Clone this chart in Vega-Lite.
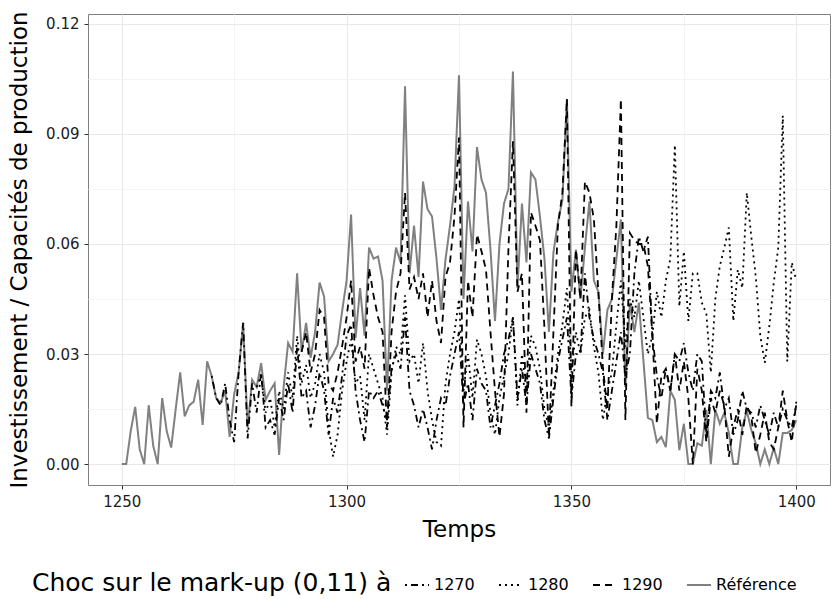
{
"$schema":"https://vega.github.io/schema/vega-lite/v6.json",
"width":742,"height":471,
"autosize":{"type":"none"},
"padding":{"left":88,"top":14,"right":1,"bottom":114},
"config":{"font":"DejaVu Sans","view":{"stroke":"#7f7f7f","strokeWidth":1},
"axis":{"domain":false,"tickColor":"#333333","tickSize":4,"labelFontSize":15,"labelColor":"#1a1a1a","titleFontSize":23,"titleFontWeight":"normal","titleColor":"#000000","labelPadding":5}},
"data":{"values":[
{"t":1250,"s":"Référence","v":0},{"t":1251,"s":"Référence","v":0},{"t":1252,"s":"Référence","v":0.009},{"t":1253,"s":"Référence","v":0.0156},{"t":1254,"s":"Référence","v":0.004},{"t":1255,"s":"Référence","v":0},{"t":1256,"s":"Référence","v":0.016},{"t":1257,"s":"Référence","v":0.005},{"t":1258,"s":"Référence","v":0},{"t":1259,"s":"Référence","v":0.018},
{"t":1260,"s":"Référence","v":0.009},{"t":1261,"s":"Référence","v":0.0045},{"t":1262,"s":"Référence","v":0.015},{"t":1263,"s":"Référence","v":0.025},{"t":1264,"s":"Référence","v":0.013},{"t":1265,"s":"Référence","v":0.016},{"t":1266,"s":"Référence","v":0.017},{"t":1267,"s":"Référence","v":0.023},{"t":1268,"s":"Référence","v":0.0107},{"t":1269,"s":"Référence","v":0.028},
{"t":1270,"s":"Référence","v":0.024},{"t":1271,"s":"Référence","v":0.018},{"t":1272,"s":"Référence","v":0.0167},{"t":1273,"s":"Référence","v":0.02},{"t":1274,"s":"Référence","v":0.0074},{"t":1275,"s":"Référence","v":0.019},{"t":1276,"s":"Référence","v":0.025},{"t":1277,"s":"Référence","v":0.0385},{"t":1278,"s":"Référence","v":0.01},{"t":1279,"s":"Référence","v":0.023},
{"t":1280,"s":"Référence","v":0.021},{"t":1281,"s":"Référence","v":0.0275},{"t":1282,"s":"Référence","v":0.0175},{"t":1283,"s":"Référence","v":0.02},{"t":1284,"s":"Référence","v":0.022},{"t":1285,"s":"Référence","v":0.0025},{"t":1286,"s":"Référence","v":0.021},{"t":1287,"s":"Référence","v":0.033},{"t":1288,"s":"Référence","v":0.0306},{"t":1289,"s":"Référence","v":0.052},
{"t":1290,"s":"Référence","v":0.0306},{"t":1291,"s":"Référence","v":0.0385},{"t":1292,"s":"Référence","v":0.029},{"t":1293,"s":"Référence","v":0.036},{"t":1294,"s":"Référence","v":0.0495},{"t":1295,"s":"Référence","v":0.0457},{"t":1296,"s":"Référence","v":0.028},{"t":1297,"s":"Référence","v":0.03},{"t":1298,"s":"Référence","v":0.0325},{"t":1299,"s":"Référence","v":0.0416},
{"t":1300,"s":"Référence","v":0.05},{"t":1301,"s":"Référence","v":0.068},{"t":1302,"s":"Référence","v":0.0344},{"t":1303,"s":"Référence","v":0.048},{"t":1304,"s":"Référence","v":0.035},{"t":1305,"s":"Référence","v":0.059},{"t":1306,"s":"Référence","v":0.056},{"t":1307,"s":"Référence","v":0.0566},{"t":1308,"s":"Référence","v":0.05},{"t":1309,"s":"Référence","v":0.02},
{"t":1310,"s":"Référence","v":0.05},{"t":1311,"s":"Référence","v":0.059},{"t":1312,"s":"Référence","v":0.055},{"t":1313,"s":"Référence","v":0.103},{"t":1314,"s":"Référence","v":0.052},{"t":1315,"s":"Référence","v":0.065},{"t":1316,"s":"Référence","v":0.051},{"t":1317,"s":"Référence","v":0.077},{"t":1318,"s":"Référence","v":0.0695},{"t":1319,"s":"Référence","v":0.0675},
{"t":1320,"s":"Référence","v":0.056},{"t":1321,"s":"Référence","v":0.042},{"t":1322,"s":"Référence","v":0.0558},{"t":1323,"s":"Référence","v":0.065},{"t":1324,"s":"Référence","v":0.0757},{"t":1325,"s":"Référence","v":0.106},{"t":1326,"s":"Référence","v":0.045},{"t":1327,"s":"Référence","v":0.0716},{"t":1328,"s":"Référence","v":0.058},{"t":1329,"s":"Référence","v":0.0864},
{"t":1330,"s":"Référence","v":0.0776},{"t":1331,"s":"Référence","v":0.074},{"t":1332,"s":"Référence","v":0.0585},{"t":1333,"s":"Référence","v":0.039},{"t":1334,"s":"Référence","v":0.06},{"t":1335,"s":"Référence","v":0.071},{"t":1336,"s":"Référence","v":0.075},{"t":1337,"s":"Référence","v":0.107},{"t":1338,"s":"Référence","v":0.048},{"t":1339,"s":"Référence","v":0.071},
{"t":1340,"s":"Référence","v":0.055},{"t":1341,"s":"Référence","v":0.0795},{"t":1342,"s":"Référence","v":0.0776},{"t":1343,"s":"Référence","v":0.0675},{"t":1344,"s":"Référence","v":0.056},{"t":1345,"s":"Référence","v":0.036},{"t":1346,"s":"Référence","v":0.0577},{"t":1347,"s":"Référence","v":0.066},{"t":1348,"s":"Référence","v":0.072},{"t":1349,"s":"Référence","v":0.0995},
{"t":1350,"s":"Référence","v":0.047},{"t":1351,"s":"Référence","v":0.0585},{"t":1352,"s":"Référence","v":0.045},{"t":1353,"s":"Référence","v":0.059},{"t":1354,"s":"Référence","v":0.0716},{"t":1355,"s":"Référence","v":0.05},{"t":1356,"s":"Référence","v":0.047},{"t":1357,"s":"Référence","v":0.03},{"t":1358,"s":"Référence","v":0.042},{"t":1359,"s":"Référence","v":0.045},
{"t":1360,"s":"Référence","v":0.056},{"t":1361,"s":"Référence","v":0.0667},{"t":1362,"s":"Référence","v":0.021},{"t":1363,"s":"Référence","v":0.044},{"t":1364,"s":"Référence","v":0.036},{"t":1365,"s":"Référence","v":0.044},{"t":1366,"s":"Référence","v":0.0284},{"t":1367,"s":"Référence","v":0.0126},{"t":1368,"s":"Référence","v":0.012},{"t":1369,"s":"Référence","v":0.006},
{"t":1370,"s":"Référence","v":0.0074},{"t":1371,"s":"Référence","v":0.0046},{"t":1372,"s":"Référence","v":0.02},{"t":1373,"s":"Référence","v":0.0175},{"t":1374,"s":"Référence","v":0.0038},{"t":1375,"s":"Référence","v":0.011},{"t":1376,"s":"Référence","v":0},{"t":1377,"s":"Référence","v":0},{"t":1378,"s":"Référence","v":0.0057},{"t":1379,"s":"Référence","v":0.005},
{"t":1380,"s":"Référence","v":0.0148},{"t":1381,"s":"Référence","v":0},{"t":1382,"s":"Référence","v":0.0148},{"t":1383,"s":"Référence","v":0.011},{"t":1384,"s":"Référence","v":0.014},{"t":1385,"s":"Référence","v":0.0085},{"t":1386,"s":"Référence","v":0},{"t":1387,"s":"Référence","v":0},{"t":1388,"s":"Référence","v":0.01},{"t":1389,"s":"Référence","v":0.0145},
{"t":1390,"s":"Référence","v":0.0093},{"t":1391,"s":"Référence","v":0.0057},{"t":1392,"s":"Référence","v":0},{"t":1393,"s":"Référence","v":0.004},{"t":1394,"s":"Référence","v":0},{"t":1395,"s":"Référence","v":0.0044},{"t":1396,"s":"Référence","v":0},{"t":1397,"s":"Référence","v":0.0085},{"t":1398,"s":"Référence","v":0.0085},{"t":1399,"s":"Référence","v":0.0093},{"t":1400,"s":"Référence","v":0.012},

{"t":1270,"s":"1270","v":0.024},{"t":1271,"s":"1270","v":0.018},{"t":1272,"s":"1270","v":0.016},{"t":1273,"s":"1270","v":0.022},{"t":1274,"s":"1270","v":0.012},{"t":1275,"s":"1270","v":0.006},{"t":1276,"s":"1270","v":0.025},{"t":1277,"s":"1270","v":0.0385},{"t":1278,"s":"1270","v":0.007},{"t":1279,"s":"1270","v":0.022},
{"t":1280,"s":"1270","v":0.014},{"t":1281,"s":"1270","v":0.025},{"t":1282,"s":"1270","v":0.01},{"t":1283,"s":"1270","v":0.012},{"t":1284,"s":"1270","v":0.008},{"t":1285,"s":"1270","v":0.018},{"t":1286,"s":"1270","v":0.012},{"t":1287,"s":"1270","v":0.022},{"t":1288,"s":"1270","v":0.014},{"t":1289,"s":"1270","v":0.032},
{"t":1290,"s":"1270","v":0.018},{"t":1291,"s":"1270","v":0.02},{"t":1292,"s":"1270","v":0.01},{"t":1293,"s":"1270","v":0.016},{"t":1294,"s":"1270","v":0.025},{"t":1295,"s":"1270","v":0.02},{"t":1296,"s":"1270","v":0.008},{"t":1297,"s":"1270","v":0.018},{"t":1298,"s":"1270","v":0.014},{"t":1299,"s":"1270","v":0.024},
{"t":1300,"s":"1270","v":0.035},{"t":1301,"s":"1270","v":0.038},{"t":1302,"s":"1270","v":0.02},{"t":1303,"s":"1270","v":0.012},{"t":1304,"s":"1270","v":0.006},{"t":1305,"s":"1270","v":0.02},{"t":1306,"s":"1270","v":0.018},{"t":1307,"s":"1270","v":0.02},{"t":1308,"s":"1270","v":0.016},{"t":1309,"s":"1270","v":0.012},
{"t":1310,"s":"1270","v":0.026},{"t":1311,"s":"1270","v":0.03},{"t":1312,"s":"1270","v":0.026},{"t":1313,"s":"1270","v":0.04},{"t":1314,"s":"1270","v":0.02},{"t":1315,"s":"1270","v":0.016},{"t":1316,"s":"1270","v":0.01},{"t":1317,"s":"1270","v":0.015},{"t":1318,"s":"1270","v":0.01},{"t":1319,"s":"1270","v":0.004},
{"t":1320,"s":"1270","v":0.012},{"t":1321,"s":"1270","v":0.018},{"t":1322,"s":"1270","v":0.016},{"t":1323,"s":"1270","v":0.024},{"t":1324,"s":"1270","v":0.03},{"t":1325,"s":"1270","v":0.036},{"t":1326,"s":"1270","v":0.016},{"t":1327,"s":"1270","v":0.022},{"t":1328,"s":"1270","v":0.012},{"t":1329,"s":"1270","v":0.026},
{"t":1330,"s":"1270","v":0.022},{"t":1331,"s":"1270","v":0.02},{"t":1332,"s":"1270","v":0.01},{"t":1333,"s":"1270","v":0.016},{"t":1334,"s":"1270","v":0.022},{"t":1335,"s":"1270","v":0.03},{"t":1336,"s":"1270","v":0.034},{"t":1337,"s":"1270","v":0.04},{"t":1338,"s":"1270","v":0.018},{"t":1339,"s":"1270","v":0.026},
{"t":1340,"s":"1270","v":0.016},{"t":1341,"s":"1270","v":0.03},{"t":1342,"s":"1270","v":0.026},{"t":1343,"s":"1270","v":0.022},{"t":1344,"s":"1270","v":0.012},{"t":1345,"s":"1270","v":0.007},{"t":1346,"s":"1270","v":0.018},{"t":1347,"s":"1270","v":0.028},{"t":1348,"s":"1270","v":0.034},{"t":1349,"s":"1270","v":0.04},
{"t":1350,"s":"1270","v":0.018},{"t":1351,"s":"1270","v":0.03},{"t":1352,"s":"1270","v":0.03},{"t":1353,"s":"1270","v":0.052},{"t":1354,"s":"1270","v":0.04},{"t":1355,"s":"1270","v":0.034},{"t":1356,"s":"1270","v":0.03},{"t":1357,"s":"1270","v":0.025},{"t":1358,"s":"1270","v":0.012},{"t":1359,"s":"1270","v":0.02},
{"t":1360,"s":"1270","v":0.028},{"t":1361,"s":"1270","v":0.036},{"t":1362,"s":"1270","v":0.024},{"t":1363,"s":"1270","v":0.03},{"t":1364,"s":"1270","v":0.052},{"t":1365,"s":"1270","v":0.062},{"t":1366,"s":"1270","v":0.058},{"t":1367,"s":"1270","v":0.062},{"t":1368,"s":"1270","v":0.035},{"t":1369,"s":"1270","v":0.024},
{"t":1370,"s":"1270","v":0.018},{"t":1371,"s":"1270","v":0.026},{"t":1372,"s":"1270","v":0.02},{"t":1373,"s":"1270","v":0.03},{"t":1374,"s":"1270","v":0.028},{"t":1375,"s":"1270","v":0.033},{"t":1376,"s":"1270","v":0.025},{"t":1377,"s":"1270","v":0.02},{"t":1378,"s":"1270","v":0.03},{"t":1379,"s":"1270","v":0.028},
{"t":1380,"s":"1270","v":0.008},{"t":1381,"s":"1270","v":0.02},{"t":1382,"s":"1270","v":0.018},{"t":1383,"s":"1270","v":0.025},{"t":1384,"s":"1270","v":0.015},{"t":1385,"s":"1270","v":0.018},{"t":1386,"s":"1270","v":0.008},{"t":1387,"s":"1270","v":0.012},{"t":1388,"s":"1270","v":0.02},{"t":1389,"s":"1270","v":0.015},
{"t":1390,"s":"1270","v":0.014},{"t":1391,"s":"1270","v":0.01},{"t":1392,"s":"1270","v":0.016},{"t":1393,"s":"1270","v":0.012},{"t":1394,"s":"1270","v":0.008},{"t":1395,"s":"1270","v":0.014},{"t":1396,"s":"1270","v":0.01},{"t":1397,"s":"1270","v":0.015},{"t":1398,"s":"1270","v":0.012},{"t":1399,"s":"1270","v":0.01},{"t":1400,"s":"1270","v":0.016},

{"t":1280,"s":"1280","v":0.021},{"t":1281,"s":"1280","v":0.024},{"t":1282,"s":"1280","v":0.014},{"t":1283,"s":"1280","v":0.018},{"t":1284,"s":"1280","v":0.01},{"t":1285,"s":"1280","v":0.02},{"t":1286,"s":"1280","v":0.015},{"t":1287,"s":"1280","v":0.025},{"t":1288,"s":"1280","v":0.018},{"t":1289,"s":"1280","v":0.035},
{"t":1290,"s":"1280","v":0.022},{"t":1291,"s":"1280","v":0.027},{"t":1292,"s":"1280","v":0.018},{"t":1293,"s":"1280","v":0.022},{"t":1294,"s":"1280","v":0.03},{"t":1295,"s":"1280","v":0.025},{"t":1296,"s":"1280","v":0.01},{"t":1297,"s":"1280","v":0.002},{"t":1298,"s":"1280","v":0.008},{"t":1299,"s":"1280","v":0.02},
{"t":1300,"s":"1280","v":0.028},{"t":1301,"s":"1280","v":0.034},{"t":1302,"s":"1280","v":0.022},{"t":1303,"s":"1280","v":0.024},{"t":1304,"s":"1280","v":0.012},{"t":1305,"s":"1280","v":0.03},{"t":1306,"s":"1280","v":0.026},{"t":1307,"s":"1280","v":0.022},{"t":1308,"s":"1280","v":0.018},{"t":1309,"s":"1280","v":0.008},
{"t":1310,"s":"1280","v":0.025},{"t":1311,"s":"1280","v":0.032},{"t":1312,"s":"1280","v":0.03},{"t":1313,"s":"1280","v":0.046},{"t":1314,"s":"1280","v":0.028},{"t":1315,"s":"1280","v":0.03},{"t":1316,"s":"1280","v":0.022},{"t":1317,"s":"1280","v":0.033},{"t":1318,"s":"1280","v":0.02},{"t":1319,"s":"1280","v":0.012},
{"t":1320,"s":"1280","v":0.006},{"t":1321,"s":"1280","v":0.005},{"t":1322,"s":"1280","v":0.022},{"t":1323,"s":"1280","v":0.03},{"t":1324,"s":"1280","v":0.036},{"t":1325,"s":"1280","v":0.045},{"t":1326,"s":"1280","v":0.02},{"t":1327,"s":"1280","v":0.03},{"t":1328,"s":"1280","v":0.018},{"t":1329,"s":"1280","v":0.034},
{"t":1330,"s":"1280","v":0.03},{"t":1331,"s":"1280","v":0.024},{"t":1332,"s":"1280","v":0.014},{"t":1333,"s":"1280","v":0.008},{"t":1334,"s":"1280","v":0.018},{"t":1335,"s":"1280","v":0.024},{"t":1336,"s":"1280","v":0.03},{"t":1337,"s":"1280","v":0.04},{"t":1338,"s":"1280","v":0.016},{"t":1339,"s":"1280","v":0.03},
{"t":1340,"s":"1280","v":0.02},{"t":1341,"s":"1280","v":0.035},{"t":1342,"s":"1280","v":0.032},{"t":1343,"s":"1280","v":0.026},{"t":1344,"s":"1280","v":0.015},{"t":1345,"s":"1280","v":0.01},{"t":1346,"s":"1280","v":0.02},{"t":1347,"s":"1280","v":0.03},{"t":1348,"s":"1280","v":0.038},{"t":1349,"s":"1280","v":0.048},
{"t":1350,"s":"1280","v":0.025},{"t":1351,"s":"1280","v":0.036},{"t":1352,"s":"1280","v":0.03},{"t":1353,"s":"1280","v":0.04},{"t":1354,"s":"1280","v":0.042},{"t":1355,"s":"1280","v":0.032},{"t":1356,"s":"1280","v":0.025},{"t":1357,"s":"1280","v":0.012},{"t":1358,"s":"1280","v":0.02},{"t":1359,"s":"1280","v":0.025},
{"t":1360,"s":"1280","v":0.038},{"t":1361,"s":"1280","v":0.05},{"t":1362,"s":"1280","v":0.032},{"t":1363,"s":"1280","v":0.045},{"t":1364,"s":"1280","v":0.04},{"t":1365,"s":"1280","v":0.05},{"t":1366,"s":"1280","v":0.04},{"t":1367,"s":"1280","v":0.03},{"t":1368,"s":"1280","v":0.035},{"t":1369,"s":"1280","v":0.047},
{"t":1370,"s":"1280","v":0.04},{"t":1371,"s":"1280","v":0.05},{"t":1372,"s":"1280","v":0.056},{"t":1373,"s":"1280","v":0.087},{"t":1374,"s":"1280","v":0.043},{"t":1375,"s":"1280","v":0.058},{"t":1376,"s":"1280","v":0.039},{"t":1377,"s":"1280","v":0.052},{"t":1378,"s":"1280","v":0.052},{"t":1379,"s":"1280","v":0.044},
{"t":1380,"s":"1280","v":0.041},{"t":1381,"s":"1280","v":0.025},{"t":1382,"s":"1280","v":0.045},{"t":1383,"s":"1280","v":0.054},{"t":1384,"s":"1280","v":0.059},{"t":1385,"s":"1280","v":0.0645},{"t":1386,"s":"1280","v":0.039},{"t":1387,"s":"1280","v":0.053},{"t":1388,"s":"1280","v":0.048},{"t":1389,"s":"1280","v":0.074},
{"t":1390,"s":"1280","v":0.062},{"t":1391,"s":"1280","v":0.051},{"t":1392,"s":"1280","v":0.035},{"t":1393,"s":"1280","v":0.0276},{"t":1394,"s":"1280","v":0.0375},{"t":1395,"s":"1280","v":0.0495},{"t":1396,"s":"1280","v":0.059},{"t":1397,"s":"1280","v":0.095},{"t":1398,"s":"1280","v":0.028},{"t":1399,"s":"1280","v":0.055},{"t":1400,"s":"1280","v":0.05},

{"t":1290,"s":"1290","v":0.0306},{"t":1291,"s":"1290","v":0.036},{"t":1292,"s":"1290","v":0.025},{"t":1293,"s":"1290","v":0.03},{"t":1294,"s":"1290","v":0.042},{"t":1295,"s":"1290","v":0.04},{"t":1296,"s":"1290","v":0.022},{"t":1297,"s":"1290","v":0.02},{"t":1298,"s":"1290","v":0.025},{"t":1299,"s":"1290","v":0.032},
{"t":1300,"s":"1290","v":0.04},{"t":1301,"s":"1290","v":0.05},{"t":1302,"s":"1290","v":0.028},{"t":1303,"s":"1290","v":0.032},{"t":1304,"s":"1290","v":0.026},{"t":1305,"s":"1290","v":0.0535},{"t":1306,"s":"1290","v":0.046},{"t":1307,"s":"1290","v":0.04},{"t":1308,"s":"1290","v":0.036},{"t":1309,"s":"1290","v":0.01},
{"t":1310,"s":"1290","v":0.036},{"t":1311,"s":"1290","v":0.047},{"t":1312,"s":"1290","v":0.052},{"t":1313,"s":"1290","v":0.074},{"t":1314,"s":"1290","v":0.0476},{"t":1315,"s":"1290","v":0.051},{"t":1316,"s":"1290","v":0.045},{"t":1317,"s":"1290","v":0.052},{"t":1318,"s":"1290","v":0.04},{"t":1319,"s":"1290","v":0.05},
{"t":1320,"s":"1290","v":0.039},{"t":1321,"s":"1290","v":0.033},{"t":1322,"s":"1290","v":0.051},{"t":1323,"s":"1290","v":0.055},{"t":1324,"s":"1290","v":0.0675},{"t":1325,"s":"1290","v":0.089},{"t":1326,"s":"1290","v":0.01},{"t":1327,"s":"1290","v":0.05},{"t":1328,"s":"1290","v":0.04},{"t":1329,"s":"1290","v":0.0626},
{"t":1330,"s":"1290","v":0.058},{"t":1331,"s":"1290","v":0.053},{"t":1332,"s":"1290","v":0.036},{"t":1333,"s":"1290","v":0.02},{"t":1334,"s":"1290","v":0.0074},{"t":1335,"s":"1290","v":0.019},{"t":1336,"s":"1290","v":0.059},{"t":1337,"s":"1290","v":0.088},{"t":1338,"s":"1290","v":0.047},{"t":1339,"s":"1290","v":0.052},
{"t":1340,"s":"1290","v":0.014},{"t":1341,"s":"1290","v":0.0686},{"t":1342,"s":"1290","v":0.065},{"t":1343,"s":"1290","v":0.061},{"t":1344,"s":"1290","v":0.037},{"t":1345,"s":"1290","v":0.0074},{"t":1346,"s":"1290","v":0.036},{"t":1347,"s":"1290","v":0.065},{"t":1348,"s":"1290","v":0.074},{"t":1349,"s":"1290","v":0.0995},
{"t":1350,"s":"1290","v":0.0156},{"t":1351,"s":"1290","v":0.0585},{"t":1352,"s":"1290","v":0.045},{"t":1353,"s":"1290","v":0.077},{"t":1354,"s":"1290","v":0.074},{"t":1355,"s":"1290","v":0.0667},{"t":1356,"s":"1290","v":0.0467},{"t":1357,"s":"1290","v":0.0265},{"t":1358,"s":"1290","v":0.0148},{"t":1359,"s":"1290","v":0.045},
{"t":1360,"s":"1290","v":0.065},{"t":1361,"s":"1290","v":0.0995},{"t":1362,"s":"1290","v":0.012},{"t":1363,"s":"1290","v":0.063},{"t":1364,"s":"1290","v":0.061},{"t":1365,"s":"1290","v":0.06},{"t":1366,"s":"1290","v":0.06},{"t":1367,"s":"1290","v":0.054},{"t":1368,"s":"1290","v":0.035},{"t":1369,"s":"1290","v":0.011},
{"t":1370,"s":"1290","v":0.024},{"t":1371,"s":"1290","v":0.026},{"t":1372,"s":"1290","v":0.02},{"t":1373,"s":"1290","v":0.03},{"t":1374,"s":"1290","v":0.02},{"t":1375,"s":"1290","v":0.028},{"t":1376,"s":"1290","v":0.018},{"t":1377,"s":"1290","v":0.0},{"t":1378,"s":"1290","v":0.026},{"t":1379,"s":"1290","v":0.02},
{"t":1380,"s":"1290","v":0.006},{"t":1381,"s":"1290","v":0.018},{"t":1382,"s":"1290","v":0.014},{"t":1383,"s":"1290","v":0.02},{"t":1384,"s":"1290","v":0.016},{"t":1385,"s":"1290","v":0.002},{"t":1386,"s":"1290","v":0.01},{"t":1387,"s":"1290","v":0.015},{"t":1388,"s":"1290","v":0.008},{"t":1389,"s":"1290","v":0.016},
{"t":1390,"s":"1290","v":0.013},{"t":1391,"s":"1290","v":0.003},{"t":1392,"s":"1290","v":0.008},{"t":1393,"s":"1290","v":0.014},{"t":1394,"s":"1290","v":0.006},{"t":1395,"s":"1290","v":0.004},{"t":1396,"s":"1290","v":0.01},{"t":1397,"s":"1290","v":0.02},{"t":1398,"s":"1290","v":0.012},{"t":1399,"s":"1290","v":0.006},{"t":1400,"s":"1290","v":0.017}
]},
"encoding":{
"x":{"field":"t","type":"quantitative","scale":{"domain":[1242.5,1407.5],"nice":false,"zero":false},
"axis":{"title":"Temps","values":[1250,1275,1300,1325,1350,1375,1400],"labelExpr":"datum.value % 50 == 0 ? format(datum.value,'d') : ''","labelFlush":false,"titlePadding":9,
"gridColor":{"condition":{"test":"datum.value % 50 != 0","value":"#f4f4f4"},"value":"#e8e8e8"},
"tickOpacity":{"condition":{"test":"datum.value % 50 != 0","value":0},"value":1}}},
"y":{"field":"v","type":"quantitative","scale":{"domain":[-0.0057,0.1227],"nice":false,"zero":false},
"axis":{"title":"Investissement / Capacités de production","values":[0,0.015,0.03,0.045,0.06,0.075,0.09,0.105,0.12],"labelExpr":"round(datum.value*1000) % 30 == 0 ? format(datum.value,'.2f') : ''","labelFlush":false,"titlePadding":14,
"gridColor":{"condition":{"test":"round(datum.value*1000) % 30 != 0","value":"#f4f4f4"},"value":"#e8e8e8"},
"tickOpacity":{"condition":{"test":"round(datum.value*1000) % 30 != 0","value":0},"value":1}}},
"color":{"field":"s","type":"nominal","scale":{"domain":["1270","1280","1290","Référence"],"range":["#000000","#000000","#000000","#808080"]},
"legend":{"title":"Choc sur le mark-up (0,11) à","orient":"none","legendX":-56,"legendY":558,"direction":"horizontal","titleOrient":"left","titleFontSize":25,"titleFontWeight":"normal","titleColor":"#000000","titleAnchor":"middle","titleLimit":600,"labelFontSize":16,"labelColor":"#000000","symbolType":"stroke","symbolSize":576,"symbolStrokeWidth":2,"columnPadding":20,"titlePadding":12,"labelOffset":4}},
"strokeDash":{"field":"s","type":"nominal","scale":{"domain":["1270","1280","1290","Référence"],"range":[[2,4,7,4],[2,4],[7,5],[1,0]]},"legend":{"title":"Choc sur le mark-up (0,11) à"}}
},
"layer":[
{"transform":[{"filter":"datum.s == 'Référence'"}],"mark":{"type":"line","strokeWidth":2}},
{"transform":[{"filter":"datum.s != 'Référence'"}],"mark":{"type":"line","strokeWidth":1.8}}
]
}
